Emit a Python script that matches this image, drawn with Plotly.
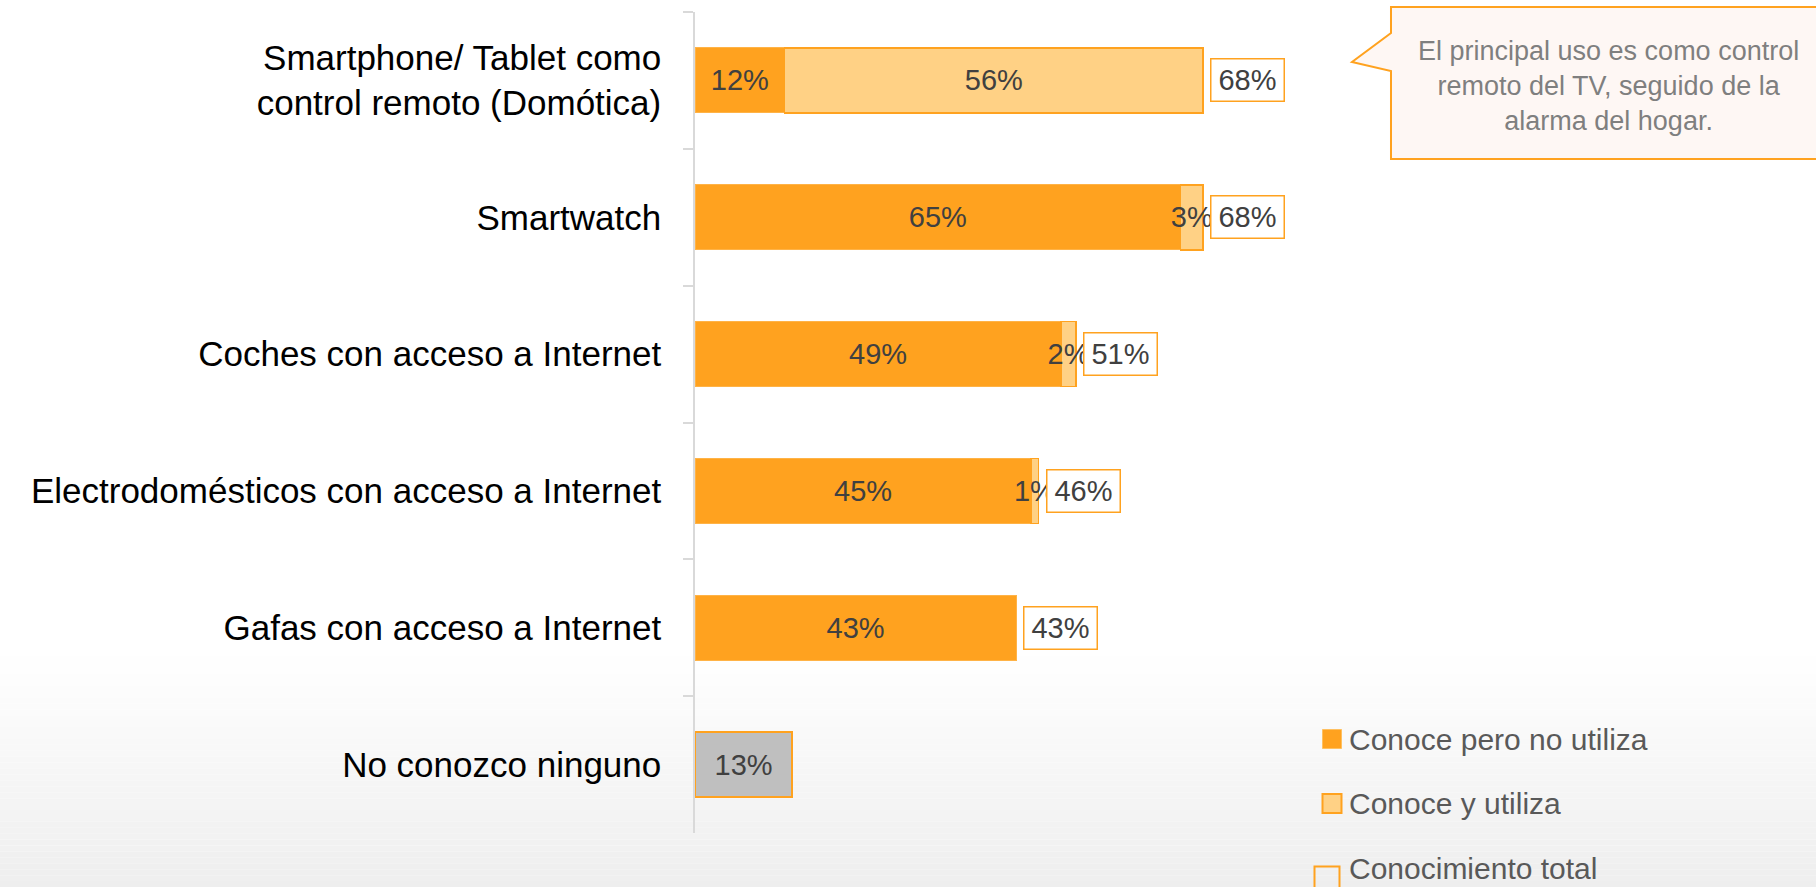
import plotly.graph_objects as go

# ---- data -------------------------------------------------------------
categorias = [
    "Smartphone/ Tablet como<br>control remoto (Domótica)",
    "Smartwatch",
    "Coches con acceso a Internet",
    "Electrodomésticos con acceso a Internet",
    "Gafas con acceso a Internet",
    "No conozco ninguno",
]
conoce_no_utiliza = [12, 65, 49, 45, 43, None]
conoce_utiliza = [56, 3, 2, 1, None, None]
conocimiento_total = [68, 68, 51, 46, 43, None]
no_conoce = [None, None, None, None, None, 13]

series_leyenda = ["Conoce pero no utiliza", "Conoce y utiliza", "Conocimiento total"]

nota = "El principal uso es como control<br>remoto del TV, seguido de la<br>alarma del hogar."

# ---- style -------------------------------------------------------------
ORANGE = "#FFA21F"
LIGHT = "#FFD185"
GRAY = "#BFBFBF"
LABEL = "#404040"
FONT = "Liberation Sans, Arial, sans-serif"

W, H = 1816, 887
ML, MR, MT, MB = 695, 0, 12, 54
PW, PH = W - ML - MR, H - MT - MB
X_MAX = PW / 7.47  # percent units across the plot width


def px_x(p):
    return (p - ML) / PW


def px_y(p):
    return (H - MB - p) / PH


def pct(vals):
    return [f"{v}%" if v is not None else "" for v in vals]


fig = go.Figure()

fig.add_trace(go.Bar(
    y=categorias, x=conoce_no_utiliza, orientation="h",
    name=series_leyenda[0], showlegend=False,
    marker=dict(color=ORANGE, line=dict(color="#FFB347", width=1)),
    text=pct(conoce_no_utiliza), textposition="inside",
    insidetextanchor="middle", textangle=0,
    textfont=dict(size=29, color=LABEL, family=FONT),
    hoverinfo="skip",
))
fig.add_trace(go.Bar(
    y=categorias, x=conoce_utiliza, orientation="h",
    name=series_leyenda[1], showlegend=False,
    marker=dict(color=LIGHT, line=dict(color=ORANGE, width=1.5)),
    text=pct(conoce_utiliza), textposition="inside",
    insidetextanchor="middle", textangle=0,
    textfont=dict(size=29, color=LABEL, family=FONT),
    hoverinfo="skip",
))
fig.add_trace(go.Bar(
    y=categorias, x=no_conoce, orientation="h",
    name="No conozco ninguno", showlegend=False,
    marker=dict(color=GRAY, line=dict(color=ORANGE, width=1.5)),
    text=pct(no_conoce), textposition="inside",
    insidetextanchor="middle", textangle=0,
    textfont=dict(size=29, color=LABEL, family=FONT),
    hoverinfo="skip",
))

# boxed total labels
annotations = []
for cat, tot in zip(categorias, conocimiento_total):
    if tot is None:
        continue
    annotations.append(dict(
        x=tot, y=cat, xref="x", yref="y", text=f"{tot}%", showarrow=False,
        xanchor="left", yanchor="middle", xshift=7,
        font=dict(size=29, color=LABEL, family=FONT),
        bgcolor="white", bordercolor=ORANGE, borderwidth=1.5, borderpad=3,
        width=66, height=35, align="center",
    ))

# callout text
annotations.append(dict(
    x=px_x(1608), y=px_y(86), xref="paper", yref="paper", text=nota,
    showarrow=False, xanchor="center", yanchor="middle", align="center",
    font=dict(size=27, color="#7F7F7F", family=FONT),
))

shapes = []
# soft grey fade towards the bottom of the page
g_top, g_bot, n = 650, H, 40
for k in range(n):
    y0 = g_top + (g_bot - g_top) * k / n
    y1 = g_top + (g_bot - g_top) * (k + 1) / n
    t = (k + 0.5) / n
    c = round(255 - (255 - 238) * t)
    shapes.append(dict(
        type="rect", xref="paper", yref="paper", layer="below",
        x0=px_x(0), x1=px_x(W), y0=px_y(y1), y1=px_y(y0),
        fillcolor=f"rgb({c},{c},{c})", line=dict(width=0),
    ))

# speech-bubble outline
pts = [(1391, 7), (1830, 7), (1830, 159), (1391, 159), (1391, 71), (1352, 62), (1391, 33)]
path = "M " + " L ".join(f"{px_x(a):.5f},{px_y(b):.5f}" for a, b in pts) + " Z"
shapes.append(dict(
    type="path", xref="paper", yref="paper", path=path, layer="above",
    fillcolor="#FEF7F4", line=dict(color=ORANGE, width=2),
))

# legend (drawn as shapes + text so it can sit below the plot area)
leg_styles = [
    dict(fill=ORANGE, line="#FFC060", lw=1, half=9.5, dx=0, dy=0),
    dict(fill=LIGHT, line=ORANGE, lw=2, half=9.5, dx=0, dy=0),
    dict(fill="rgba(255,255,255,0)", line=ORANGE, lw=2, half=12.5, dx=-5, dy=11),
]
LEG_X, LEG_Y0, LEG_STEP = 1332, 739, 64.5
for i, (nm, st) in enumerate(zip(series_leyenda, leg_styles)):
    cy = LEG_Y0 + i * LEG_STEP
    cx = LEG_X + st["dx"]
    sy = cy + st["dy"]
    h = st["half"]
    shapes.append(dict(
        type="rect", xref="paper", yref="paper", layer="above",
        x0=px_x(cx - h), x1=px_x(cx + h), y0=px_y(sy + h), y1=px_y(sy - h),
        fillcolor=st["fill"], line=dict(color=st["line"], width=st["lw"]),
    ))
    annotations.append(dict(
        x=px_x(1347), y=px_y(cy), xref="paper", yref="paper", text=nm,
        showarrow=False, xanchor="left", yanchor="middle",
        font=dict(size=30, color="#595959", family=FONT),
    ))

fig.update_layout(
    width=W, height=H, autosize=False,
    margin=dict(l=ML, r=MR, t=MT, b=MB, pad=0),
    barmode="stack", bargap=0.525,
    paper_bgcolor="white", plot_bgcolor="rgba(0,0,0,0)",
    font=dict(family=FONT, color=LABEL),
    uniformtext=dict(minsize=29, mode="show"),
    showlegend=False,
    xaxis=dict(range=[0, X_MAX], visible=False, fixedrange=True),
    yaxis=dict(
        autorange="reversed", showline=True, linecolor="#D9D9D9", linewidth=1.5,
        ticks="outside", tickson="boundaries", ticklen=10, tickcolor="#D9D9D9",
        tickwidth=1.5, showgrid=False, ticklabelstandoff=25,
        tickfont=dict(size=35, color="#000000", family=FONT),
        fixedrange=True,
    ),
    annotations=annotations, shapes=shapes,
)

fig.write_html("out.html")
